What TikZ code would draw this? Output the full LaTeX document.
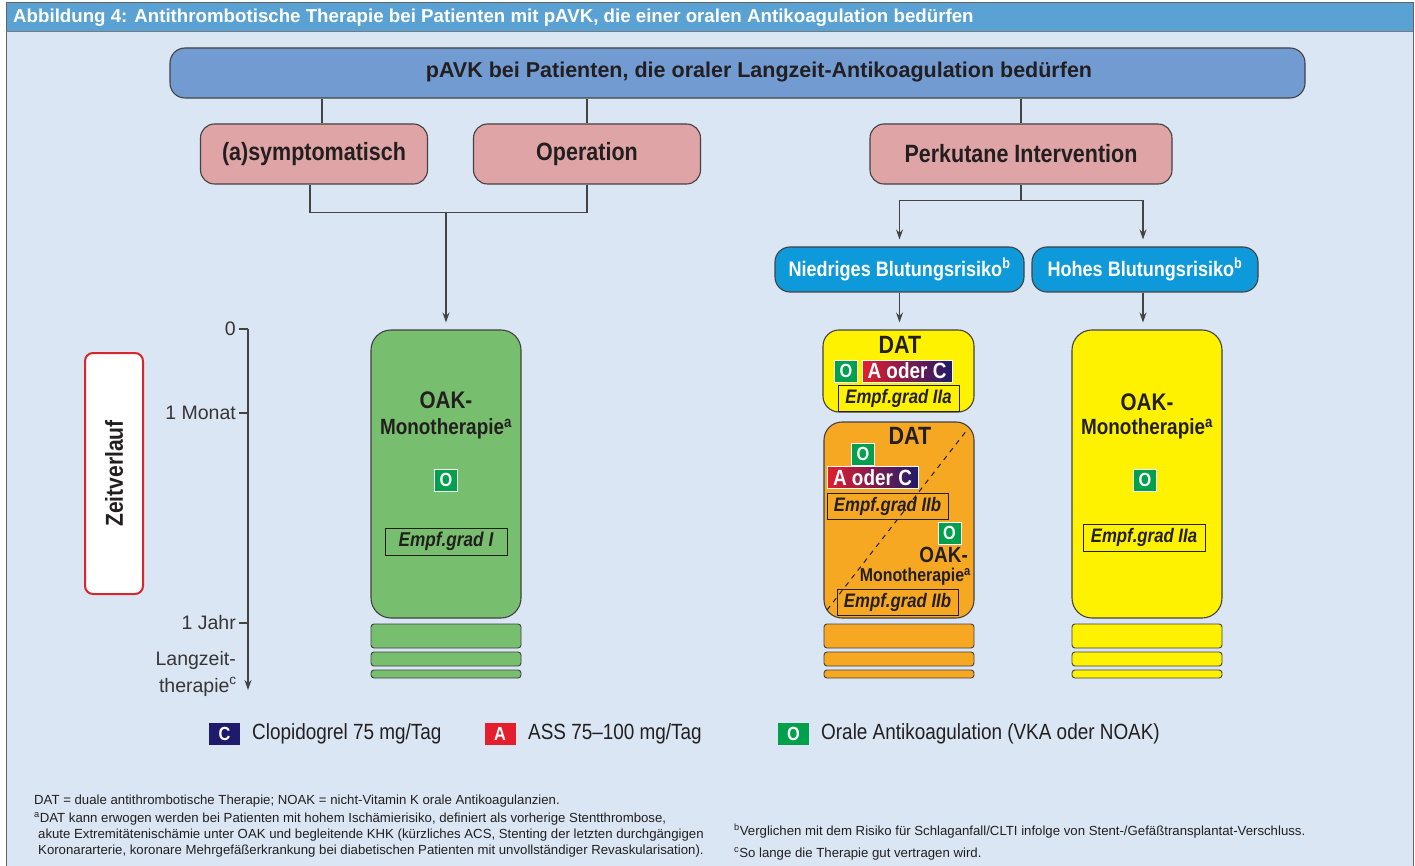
\documentclass[tikz,border=0pt]{standalone}
\usepackage{fontspec}
\setmainfont{Liberation Sans}[FakeStretch=0.86]
\newfontfamily\wf{Liberation Sans}
\usetikzlibrary{arrows.meta,calc}
\definecolor{txt}{HTML}{231F20}
\definecolor{bgblue}{HTML}{DAE6F3}
\definecolor{hdrblue}{HTML}{5AA2D4}
\definecolor{topblue}{HTML}{729BD2}
\definecolor{pinkc}{HTML}{DFA4A5}
\definecolor{cyanc}{HTML}{0E9ADA}
\definecolor{greenc}{HTML}{78BE6F}
\definecolor{yellowc}{HTML}{FFF200}
\definecolor{orangec}{HTML}{F7A823}
\definecolor{ogreen}{HTML}{00A04C}
\definecolor{ared}{HTML}{E41E2D}
\definecolor{cnavy}{HTML}{1F1A6B}
\definecolor{redb}{HTML}{D8262E}
\definecolor{linec}{HTML}{444444}
\newcommand\myfs[1]{\fontsize{#1}{#1}\selectfont}
\begin{document}
\begin{tikzpicture}[x=1pt,y=-1pt,
  every node/.style={inner sep=0pt, text=txt},
  boxbase/.style={draw=txt!85, line width=1.1pt, align=center},
  topbox/.style={boxbase, fill=topblue, rounded corners=15pt},
  pinkbox/.style={boxbase, fill=pinkc, rounded corners=14pt, font=\bfseries\myfs{25}, minimum height=60pt},
  riskbox/.style={boxbase, fill=cyanc, rounded corners=15pt, font=\bfseries\myfs{21}, text=white, minimum height=45pt},
  therbox/.style={boxbase, rounded corners=20pt, minimum width=150pt},
  stripe/.style={draw=txt!85, line width=0.9pt, rounded corners=3pt},
  badge/.style={draw=white, line width=0.8pt, minimum width=23pt, minimum height=22pt, text=white, font=\bfseries\myfs{19}},
  acbox/.style={draw=white, line width=0.8pt, left color=ared, right color=cnavy, minimum height=22pt, text=white, font=\bfseries\myfs{22}},
  empf/.style={draw=txt, line width=0.9pt, font=\bfseries\itshape\myfs{19.5}},
  conn/.style={draw=linec, line width=1.2pt},
  arr/.style={conn, -{Stealth[length=10pt,width=7pt]}, shorten >=7pt},
  big/.style={font=\bfseries\myfs{24}},
  mono/.style={font=\bfseries\myfs{22}},
  tl/.style={font=\wf\myfs{19.5}, text=txt!90, anchor=east},
  leg/.style={font=\myfs{22}, anchor=west},
  foot/.style={font=\wf\myfs{13.2}, anchor=base west}
]
\useasboundingbox (0,0) rectangle (1415,866);
% frame
\fill[bgblue] (6,3) rectangle (1413,866);
\fill[hdrblue] (6,3) rectangle (1413,32);
\draw[txt!70, line width=1pt] (6,866) -- (6,3) -- (1413,3) -- (1413,866);
\draw[txt!60, line width=1pt] (6,32) -- (1413,32);
\node[anchor=west, text=white, font=\wf\bfseries\myfs{18.7}] (hdr) at (13,18) {Abbildung 4: Antithrombotische Therapie bei Patienten mit pAVK, die einer oralen Antikoagulation bedürfen};

% top box
\node[topbox, minimum width=1135pt, minimum height=50pt] (top) at (737.5,73) {};
\node[font=\wf\bfseries\myfs{21.5}] (toptxt) at (759,72) {pAVK bei Patienten, die oraler Langzeit-Antikoagulation bedürfen};

% pink boxes
\node[pinkbox, minimum width=227pt] (asym) at (314,154) {(a)symptomatisch};
\node[pinkbox, minimum width=227pt] (oper) at (587,154) {Operation};
\node[pinkbox, minimum width=302pt] (perk) at (1021,154) {Perkutane Intervention};

\draw[conn] ([xshift=8pt]asym.north) -- ([xshift=8pt]asym.north |- top.south);
\draw[conn] (oper.north) -- (oper.north |- top.south);
\draw[conn] (perk.north) -- (perk.north |- top.south);

% risk boxes
\node[riskbox, minimum width=249pt] (niedr) at (899.5,269.5) {Niedriges Blutungsrisiko\textsuperscript{b}};
\node[riskbox, minimum width=226pt] (hohes) at (1145,269.5) {Hohes Blutungsrisiko\textsuperscript{b}};

% therapy boxes
\node[therbox, fill=greenc, minimum height=288pt] (green) at (446,474) {};
\node[therbox, fill=yellowc, minimum height=288pt] (yel) at (1147,474) {};
\node[therbox, fill=yellowc, minimum width=151pt, minimum height=82pt, rounded corners=16pt] (dat1) at (898.5,371) {};
\node[therbox, fill=orangec, minimum width=150pt, minimum height=196pt, rounded corners=18pt] (dat2) at (899,520) {};

% connectors
\draw[conn] ([xshift=-4pt]asym.south) -- ++(0,28) coordinate (j0) -| (oper.south);
\coordinate (j1) at (446,212);
\draw[arr] (j1) -- (green.north);
\draw[arr] (perk.south) -- ++(0,16) coordinate (p1) -| (niedr.north);
\draw[arr] (p1) -| ([xshift=-2pt]hohes.north);
\draw[arr] (niedr.south) -- (niedr.south |- dat1.north);
\draw[arr] ([xshift=-2pt]hohes.south) -- ([xshift=-2pt]hohes.south |- yel.north);

% stripes
\foreach \xl/\col in {371/greenc, 824/orangec, 1072/yellowc}{
  \draw[stripe, fill=\col] (\xl,624) rectangle ++(150,24);
  \draw[stripe, fill=\col] (\xl,652) rectangle ++(150,14);
  \draw[stripe, fill=\col] (\xl,670) rectangle ++(150,8);
}

% green content
\node[big] (g1) at (446,400) {OAK-};
\node[mono] (g2) at (446,429) {Monotherapie\textsuperscript{a}};
\node[badge, fill=ogreen] (g3) at (446,480) {O};
\node[empf, minimum width=122pt, minimum height=27pt, font=\bfseries\itshape\myfs{20}] (g4) at (446,541.5) {Empf.grad I};

% yellow content
\node[big] (y1) at (1147,402) {OAK-};
\node[mono] (y2) at (1147,429) {Monotherapie\textsuperscript{a}};
\node[badge, fill=ogreen] (y3) at (1145,480) {O};
\node[empf, minimum width=122pt, minimum height=27pt] (y4) at (1144,537.5) {Empf.grad IIa};

% DAT yellow content
\node[font=\bfseries\myfs{25}] (d1) at (900,345) {DAT};
\node[badge, fill=ogreen] (d2) at (846,371) {O};
\node[acbox, minimum width=90pt] (d3) at (907,371) {A oder C};
\node[empf, minimum width=121pt, minimum height=26pt] (d4) at (898.5,398) {Empf.grad IIa};

% DAT orange content
\coordinate (dl1) at (827,610);
\coordinate (dl2) at (967,430);
\draw[txt, line width=1pt, dash pattern=on 5pt off 5pt] (dl1) -- (dl2);
\node[font=\bfseries\myfs{25}] (e1) at (910,436) {DAT};
\node[badge, fill=ogreen] (e2) at (863,454) {O};
\node[acbox, minimum width=91pt] (e3) at (872.5,477.5) {A oder C};
\node[empf, minimum width=121pt, minimum height=26pt] (e4) at (887.5,506) {Empf.grad IIb};
\node[badge, fill=ogreen] (e5) at (949.5,533) {O};
\node[anchor=east, font=\bfseries\myfs{22}] (e6) at (968,555) {OAK-};
\node[anchor=east, font=\bfseries\myfs{18.5}] (e7) at (971,577) {Monotherapie\textsuperscript{a}};
\node[empf, minimum width=121pt, minimum height=26pt] (e8) at (897.5,602) {Empf.grad IIb};

% timeline
\coordinate (t0) at (248,329);
\coordinate (tend) at (248,690);
\draw[conn, -{Stealth[length=10pt,width=7pt]}] (t0) -- (tend);
\draw[conn] (239,329) -- (t0);
\draw[conn] (239,413) -- (248,413);
\draw[conn] (239,623) -- (248,623);
\node[tl] (l0) at (236,329) {0};
\node[tl] (l1) at (236,413) {1 Monat};
\node[tl] (l2) at (236,623) {1 Jahr};
\node[tl] (l3) at (236,660) {Langzeit-};
\node[tl] (l4) at (237,687) {therapie\textsuperscript{c}};
\node[draw=redb, fill=white, line width=2pt, rounded corners=8pt, minimum width=58pt, minimum height=241pt] (zbox) at (114,473.5) {};
\node[rotate=90, font=\bfseries\myfs{24.5}] (ztext) at (114,473.5) {Zeitverlauf};

% legend
\node[badge, fill=cnavy, minimum width=31pt, draw=none] (lc) at (224.5,734) {C};
\node[leg] (lct) at (252,734) {Clopidogrel 75 mg/Tag};
\node[badge, fill=ared, minimum width=31pt, draw=none] (la) at (500,734) {A};
\node[leg] (lat) at (528,734) {ASS 75–100 mg/Tag};
\node[badge, fill=ogreen, minimum width=31pt, draw=none] (lo) at (793.5,734) {O};
\node[leg] (lot) at (821,734) {Orale Antikoagulation (VKA oder NOAK)};

% footnotes
\node[foot] (f1) at (34,804) {DAT = duale antithrombotische Therapie; NOAK = nicht-Vitamin K orale Antikoagulanzien.};
\node[foot] (f2) at (34,822) {\textsuperscript{a}DAT kann erwogen werden bei Patienten mit hohem Ischämierisiko, definiert als vorherige Stentthrombose,};
\node[foot] (f3) at (38,838) {akute Extremitätenischämie unter OAK und begleitende KHK (kürzliches ACS, Stenting der letzten durchgängigen};
\node[foot] (f4) at (38,854) {Koronararterie, koronare Mehrgefäßerkrankung bei diabetischen Patienten mit unvollständiger Revaskularisation).};
\node[foot] (f5) at (734,835) {\textsuperscript{b}Verglichen mit dem Risiko für Schlaganfall/CLTI infolge von Stent-/Gefäßtransplantat-Verschluss.};
\node[foot] (f6) at (734,857) {\textsuperscript{c}So lange die Therapie gut vertragen wird.};
\end{tikzpicture}
\end{document}
